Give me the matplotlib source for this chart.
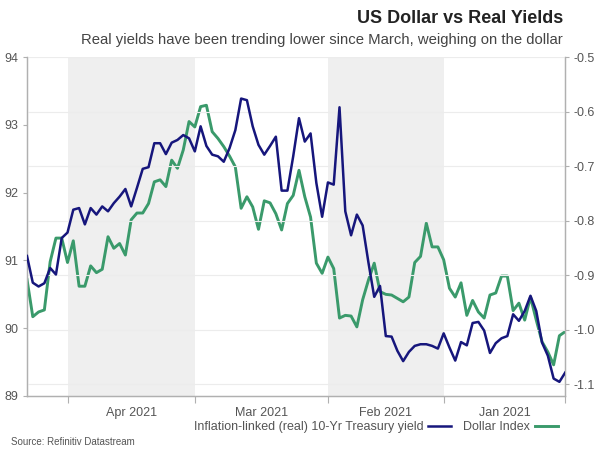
import numpy as np
import pandas as pd

from matplotlib import pyplot as plt

# Data (one value per weekday, 1 Jan 2021 -> 12 May 2021)

dates = pd.bdate_range('2021-01-01', '2021-05-12')

dollar_index = [
    89.95, 89.89, 89.46, 89.65, 89.80, 90.12, 90.46, 90.12, 90.37, 90.26,
    90.77, 90.77, 90.52, 90.49, 90.15, 90.24, 90.41, 90.19, 90.67, 90.46,
    90.59, 91.01, 91.20, 91.20, 91.55, 91.06, 90.97, 90.46, 90.39, 90.44,
    90.49, 90.50, 90.54, 90.96, 90.71, 90.42, 90.02, 90.18, 90.19, 90.15,
    90.88, 91.05, 90.81, 90.96, 91.64, 91.94, 92.33, 91.96, 91.84, 91.45,
    91.69, 91.85, 91.88, 91.46, 91.79, 91.94, 91.77, 92.38, 92.54, 92.68,
    92.80, 92.90, 93.29, 93.27, 92.97, 93.05, 92.63, 92.36, 92.48, 92.09,
    92.19, 92.16, 91.84, 91.70, 91.70, 91.60, 91.08, 91.25, 91.18, 91.35,
    90.87, 90.82, 90.92, 90.62, 90.62, 91.29, 90.97, 91.33, 91.33, 90.98,
    90.27, 90.24, 90.17, 90.72,
]

real_yield = [
    -1.079, -1.096, -1.090, -1.048, -1.024, -0.966, -0.938, -0.966, -0.984, -0.972,
    -1.012, -1.016, -1.025, -1.043, -1.002, -0.986, -0.988, -1.029, -1.023, -1.057,
    -1.033, -1.007, -1.035, -1.030, -1.027, -1.027, -1.030, -1.041, -1.058, -1.039,
    -1.013, -1.012, -0.920, -0.940, -0.877, -0.809, -0.789, -0.827, -0.783, -0.592,
    -0.734, -0.730, -0.793, -0.731, -0.640, -0.655, -0.612, -0.682, -0.745, -0.745,
    -0.646, -0.663, -0.679, -0.661, -0.627, -0.579, -0.576, -0.634, -0.667, -0.692,
    -0.682, -0.679, -0.663, -0.627, -0.673, -0.649, -0.643, -0.652, -0.657, -0.678,
    -0.658, -0.658, -0.702, -0.705, -0.740, -0.774, -0.742, -0.756, -0.768, -0.783,
    -0.774, -0.789, -0.777, -0.807, -0.777, -0.780, -0.822, -0.832, -0.899, -0.887,
    -0.915, -0.921, -0.914, -0.865,
]

dollar_ticks = [89, 90, 91, 92, 93, 94]
yield_ticks = [-0.5, -0.6, -0.7, -0.8, -0.9, -1.0, -1.1]
month_labels = ['Jan 2021', 'Feb 2021', 'Mar 2021', 'Apr 2021']
shaded_months = ['Feb 2021', 'Apr 2021']

title = 'US Dollar vs Real Yields'
subtitle = 'Real yields have been trending lower since March, weighing on the dollar'
source = 'Source: Refinitiv Datastream'

# Styling

green = '#3a9a6b'
navy = '#16167c'
grey_txt = '#555555'
spine_col = '#b0b0b0'

plt.rcParams['font.family'] = ['Liberation Sans', 'DejaVu Sans']

x_idx = np.arange(len(dates))

# Month boundaries (index of first weekday of each month)

month_start = [0]
for k in range(1, len(dates)):
    if dates[k].month != dates[k - 1].month:
        month_start.append(k)
month_start = np.array(month_start)
month_mid = (month_start[:-1] + month_start[1:]) / 2.0

# Plot (mirrored layout: time runs right to left)

fig = plt.figure(figsize=(6, 4.5), dpi=100)
ax = fig.add_axes([0.045, 0.12, 0.897, 0.753])
ax2 = ax.twinx()

for m_idx, lbl in enumerate(month_labels):
    if lbl in shaded_months:
        ax.axvspan(month_start[m_idx], month_start[m_idx + 1], color='#efefef', lw=0, zorder=0)

ax.plot(x_idx, dollar_index, color=green, lw=2.1, zorder=3, label='Dollar Index')
ax2.plot(x_idx, real_yield, color=navy, lw=1.8, zorder=3,
         label='Inflation-linked (real) 10-Yr Treasury yield')

ax.set_xlim(len(dates) - 1, 0)
ax.set_ylim(89, 94)
ax2.set_ylim(-1.122, -0.5)

ax.set_yticks(dollar_ticks)
ax2.set_yticks(yield_ticks)
ax2.set_yticklabels(['%.1f' % v for v in yield_ticks])

# Grid from the yield axis

for v in yield_ticks:
    ax2.axhline(v, color='#ececec', lw=0.8, zorder=1)

ax.set_xticks(month_start[:5])
ax.set_xticklabels([])
ax.set_xticks(month_mid, minor=True)
ax.set_xticklabels(month_labels, minor=True)
ax.tick_params(axis='x', which='major', length=5, color=spine_col)
ax.tick_params(axis='x', which='minor', length=0, labelsize=9, labelcolor=grey_txt, pad=8)

ax.tick_params(axis='y', length=3, color=spine_col, labelsize=9, labelcolor=grey_txt, pad=3)
ax2.tick_params(axis='y', length=3, color=spine_col, labelsize=9, labelcolor=grey_txt, pad=3)

for a in [ax, ax2]:
    a.spines['top'].set_visible(False)
    for s in ['left', 'right', 'bottom']:
        a.spines[s].set_color(spine_col)
        a.spines[s].set_linewidth(0.9)

ax.set_zorder(ax2.get_zorder() - 1)
ax.patch.set_visible(True)
ax2.patch.set_visible(False)

# Titles, legend, source

fig.text(0.938, 0.958, title, ha='right', va='center', fontsize=13, fontweight='bold', color='#222222')
fig.text(0.938, 0.911, subtitle, ha='right', va='center', fontsize=10.7, color='#444444')

h1, l1 = ax2.get_legend_handles_labels()
h2, l2 = ax.get_legend_handles_labels()
fig.legend(h1 + h2, l1 + l2, loc='center right', bbox_to_anchor=(0.948, 0.051), ncol=2,
           frameon=False, markerfirst=False, fontsize=9, handlelength=1.8,
           handletextpad=0.4, columnspacing=1.0, labelcolor=grey_txt)

fig.text(0.225, 0.018, source, ha='right', va='center', fontsize=7, color=grey_txt)

plt.savefig('out.png', dpi=100)
